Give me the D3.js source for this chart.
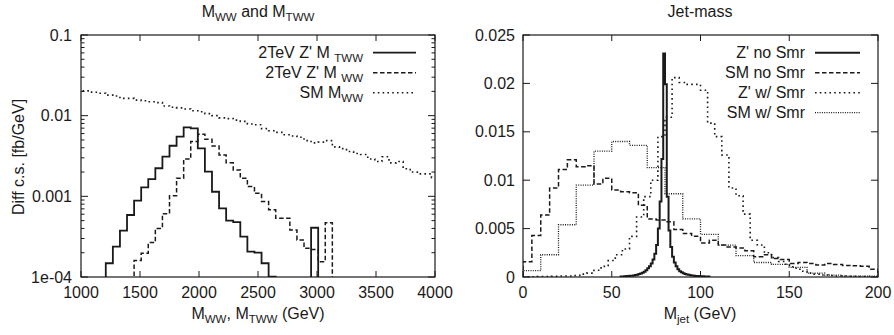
<!DOCTYPE html>
<html><head><meta charset="utf-8">
<script src="https://cdn.jsdelivr.net/npm/d3@7"></script>
<style>
body{margin:0;background:#fff;}
svg{display:block;font-family:"Liberation Sans",Arial,Helvetica,sans-serif;}
</style></head>
<body>
<svg id="chart" width="894" height="335"></svg>
<script>
// ---------------- DATA ----------------
// Left panel: M_WW and M_TWW (60 GeV bins)
const mtwwStart = 1210, mwwStart = 1450, smStart = 970, massBinWidth = 60;
const mtwwValues = [1.48e-4, 2.38e-4, 3.75e-4, 5.87e-4, 8.83e-4, 1.29e-3, 1.63e-3, 2.23e-3, 3.10e-3, 4.24e-3,
  5.49e-3, 7.17e-3, 6.97e-3, 3.94e-3, 2.02e-3, 1.14e-3, 7.1e-4, 4.99e-4, 4.8e-4, 3.16e-4,
  2.06e-4, 2.0e-4, 1.48e-4, 1.01e-4, 0, 0, 0, 0, 0, 4.08e-4];
const mwwValues = [1.6e-4, 1.97e-4, 2.67e-4, 4.0e-4, 6.1e-4, 1.02e-3, 1.68e-3, 2.9e-3, 4.8e-3, 5.9e-3,
  5.1e-3, 4.2e-3, 3.25e-3, 2.6e-3, 2.12e-3, 1.67e-3, 1.32e-3, 1.09e-3, 8.6e-4, 6.8e-4,
  5.35e-4, 5.35e-4, 3.83e-4, 2.88e-4, 2.27e-4, 2.2e-4, 1.55e-4, 4.7e-4];
const smMwwValues = [0.0203, 0.0203, 0.0195, 0.0190, 0.0180, 0.0175, 0.0164, 0.0164, 0.0156, 0.0153,
  0.0149, 0.0145, 0.0132, 0.0127, 0.0125, 0.0121, 0.0115, 0.0112, 0.0106, 0.0100,
  0.0094, 0.0092, 0.0088, 0.0085, 0.0079, 0.0077, 0.0069, 0.0065, 0.0062, 0.0058,
  0.0056, 0.0054, 0.0049, 0.0046, 0.0047, 0.0049, 0.0041, 0.0039, 0.0036, 0.0034,
  0.0033, 0.0029, 0.0027, 0.0031, 0.0026, 0.0027, 0.0022, 0.0020, 0.0019, 0.0019, 0.0017];
const leftXTicks = [1000, 1500, 2000, 2500, 3000, 3500, 4000];
const leftYTicks = [1e-4, 1e-3, 1e-2, 1e-1];
const leftYTickLabels = ["1e-04", "0.001", "0.01", "0.1"];

// Right panel: Jet-mass
const zNoSmrStart = 55, zNoSmrWidth = 1;
const zNoSmrValues = [0.00005, 0.00005, 0.00008, 0.0001, 0.0001, 0.00012, 0.00014, 0.00016, 0.0002, 0.00024,
  0.0003, 0.00036, 0.00045, 0.00055, 0.0007, 0.0009, 0.0011, 0.0014, 0.0018, 0.0024,
  0.0033, 0.0050, 0.0078, 0.0122, 0.0231, 0.0199, 0.0083, 0.0048, 0.0031, 0.0021,
  0.0015, 0.0011, 0.0008, 0.0006, 0.00048, 0.0004, 0.00032, 0.00026, 0.00022, 0.00018,
  0.00015, 0.00013, 0.00011, 0.0001, 0.00009, 0.00008, 0.00007, 0.00006, 0.00005, 0.00004];
const smNoSmrStart = 0, smNoSmrWidth = 5;
const smNoSmrValues = [0.00158, 0.00428, 0.0064, 0.0092, 0.0111, 0.0121, 0.0114, 0.0115, 0.0096, 0.0102,
  0.0090, 0.0088, 0.0087, 0.0074, 0.0060, 0.0059, 0.0057, 0.0049, 0.0045, 0.0042,
  0.0035, 0.0038, 0.0033, 0.0031, 0.0030, 0.0027, 0.0021, 0.0023, 0.0019, 0.0018,
  0.0014, 0.0015, 0.0014, 0.00124, 0.0014, 0.0013, 0.0012, 0.00115, 0.0011, 0.0008];
const zWSmrStart = 0, zWSmrWidth = 4;
const zWSmrValues = [0.00003, 0.00003, 0.00005, 0.00005, 0.00008, 0.0001, 0.0001, 0.00015, 0.0003, 0.0004,
  0.0007, 0.0011, 0.0017, 0.0023, 0.0029, 0.0042, 0.0062, 0.0083, 0.0100, 0.0145,
  0.0165, 0.0206, 0.0201, 0.0199, 0.0199, 0.0193, 0.0159, 0.0145, 0.0126, 0.0092,
  0.0084, 0.0065, 0.0038, 0.0033, 0.0025, 0.0020, 0.0016, 0.0012, 0.0009, 0.0006,
  0.0004, 0.0003, 0.0002, 0.00015, 0.0001, 0.0001, 0.00008, 0.00005, 0.00005, 0.00003];
const smWSmrStart = 0, smWSmrWidth = 10;
const smWSmrValues = [0.00065, 0.0023, 0.0054, 0.0095, 0.0130, 0.0140, 0.0136, 0.0113, 0.0086, 0.0060,
  0.0044, 0.0033, 0.0022, 0.0015, 0.0013, 0.0010, 0.0004, 0.0002, 0.0001, 0.0001];
const rightXTicks = [0, 50, 100, 150, 200];
const rightYTicks = [0, 0.005, 0.01, 0.015, 0.02, 0.025];
const rightYTickLabels = ["0", "0.005", "0.01", "0.015", "0.02", "0.025"];

// ---------------- DRAWING ----------------
const svg = d3.select("#chart");
const INK = "#1a1a1a";
const FS = 16, SUB = 11.5;

function edges(start, width, n) { return d3.range(n + 1).map(i => start + i * width); }
function stepPts(start, width, vals) {
  const e = edges(start, width, vals.length);
  const pts = [[e[0], 0]];
  vals.forEach((v, i) => pts.push([e[i], v]));
  pts.push([e[vals.length], vals[vals.length - 1]]);
  pts.push([e[vals.length], 0]);
  return pts;
}
// rich text: parts = [[text, isSub], ...]
function rich(g, x, y, parts, anchor, size) {
  const t = g.append("text").attr("x", x).attr("y", y).attr("text-anchor", anchor)
    .attr("font-size", size || FS).attr("fill", INK);
  let sub = false;
  parts.forEach(([s, isSub]) => {
    const ts = t.append("tspan").text(s);
    if (isSub && !sub) { ts.attr("dy", 4).attr("font-size", SUB); }
    else if (!isSub && sub) { ts.attr("dy", -4); }
    else if (isSub) ts.attr("font-size", SUB);
    sub = isSub;
  });
  return t;
}

// ---------- Left panel ----------
const L = {x0: 81, x1: 435, y0: 35, y1: 277};
const xL = d3.scaleLinear().domain([1000, 4000]).range([L.x0, L.x1]);
const yL = d3.scaleLog().domain([1e-4, 0.1]).range([L.y1, L.y0]);
const gL = svg.append("g");
svg.append("clipPath").attr("id", "clipL").append("rect")
  .attr("x", L.x0).attr("y", L.y0).attr("width", L.x1 - L.x0).attr("height", L.y1 - L.y0);

const lineL = d3.line().x(d => xL(d[0])).y(d => d[1] > 0 ? yL(d[1]) : L.y1 + 20).curve(d3.curveStepAfter);
const leftSeries = [
  {name: [["2TeV Z' M ", false], ["TWW", true]], pts: stepPts(mtwwStart, massBinWidth, mtwwValues), dash: null, w: 1.8},
  {name: [["2TeV Z' M ", false], ["WW", true]], pts: stepPts(mwwStart, massBinWidth, mwwValues), dash: "4.5,2.5", w: 1.5},
  {name: [["SM M", false], ["WW", true]], pts: stepPts(smStart, massBinWidth, smMwwValues), dash: "1.6,3.2", w: 1.6}
];
const plotL = gL.append("g").attr("clip-path", "url(#clipL)");
leftSeries.forEach(s => {
  plotL.append("path").attr("d", lineL(s.pts)).attr("fill", "none").attr("stroke", INK)
    .attr("stroke-width", s.w).attr("stroke-dasharray", s.dash);
});

// left axes ticks
const axL = gL.append("g").attr("stroke", INK).attr("stroke-width", 1);
leftXTicks.forEach(v => {
  axL.append("line").attr("x1", xL(v)).attr("x2", xL(v)).attr("y1", L.y1).attr("y2", L.y1 - 6);
  axL.append("line").attr("x1", xL(v)).attr("x2", xL(v)).attr("y1", L.y0).attr("y2", L.y0 + 6);
  gL.append("text").attr("x", xL(v)).attr("y", 298).attr("text-anchor", "middle")
    .attr("font-size", FS).attr("fill", INK).text(v);
});
leftYTicks.forEach((v, i) => {
  axL.append("line").attr("x1", L.x0).attr("x2", L.x0 + 7).attr("y1", yL(v)).attr("y2", yL(v));
  axL.append("line").attr("x1", L.x1).attr("x2", L.x1 - 7).attr("y1", yL(v)).attr("y2", yL(v));
  gL.append("text").attr("x", 72).attr("y", yL(v) + 5.5).attr("text-anchor", "end")
    .attr("font-size", FS).attr("fill", INK).text(leftYTickLabels[i]);
  if (i < leftYTicks.length - 1) {
    d3.range(2, 10).forEach(m => {
      const mv = v * m;
      axL.append("line").attr("x1", L.x0).attr("x2", L.x0 + 3.5).attr("y1", yL(mv)).attr("y2", yL(mv));
      axL.append("line").attr("x1", L.x1).attr("x2", L.x1 - 3.5).attr("y1", yL(mv)).attr("y2", yL(mv));
    });
  }
});
gL.append("rect").attr("x", L.x0).attr("y", L.y0).attr("width", L.x1 - L.x0).attr("height", L.y1 - L.y0)
  .attr("fill", "none").attr("stroke", INK).attr("stroke-width", 1.2);

// legend left
leftSeries.forEach((s, i) => {
  const yy = 52.7 + i * 20;
  rich(gL, 363, yy + 5, s.name, "end");
  gL.append("line").attr("x1", 373).attr("x2", 416).attr("y1", yy).attr("y2", yy)
    .attr("stroke", INK).attr("stroke-width", s.w).attr("stroke-dasharray", s.dash);
});
// titles & labels left
rich(gL, 258, 17, [["M", false], ["WW", true], [" and  M", false], ["TWW", true]], "middle");
rich(gL, 258, 319, [["M", false], ["WW", true], [", M", false], ["TWW", true], [" (GeV)", false]], "middle");
gL.append("text").attr("transform", "translate(24,157) rotate(-90)").attr("text-anchor", "middle")
  .attr("font-size", FS).attr("fill", INK).text("Diff c.s. [fb/GeV]");

// ---------- Right panel ----------
const R = {x0: 523, x1: 878, y0: 35, y1: 277};
const xR = d3.scaleLinear().domain([0, 200]).range([R.x0, R.x1]);
const yR = d3.scaleLinear().domain([0, 0.025]).range([R.y1, R.y0]);
const gR = svg.append("g");
svg.append("clipPath").attr("id", "clipR").append("rect")
  .attr("x", R.x0).attr("y", R.y0 - 1).attr("width", R.x1 - R.x0).attr("height", R.y1 - R.y0 + 1);
const lineR = d3.line().x(d => xR(d[0])).y(d => yR(d[1])).curve(d3.curveStepAfter);
const rightSeries = [
  {name: "Z' no Smr", pts: stepPts(zNoSmrStart, zNoSmrWidth, zNoSmrValues), dash: null, w: 2},
  {name: "SM no Smr", pts: stepPts(smNoSmrStart, smNoSmrWidth, smNoSmrValues), dash: "4.5,2.5", w: 1.5},
  {name: "Z' w/ Smr", pts: stepPts(zWSmrStart, zWSmrWidth, zWSmrValues), dash: "1.6,3.2", w: 1.6},
  {name: "SM w/ Smr", pts: stepPts(smWSmrStart, smWSmrWidth, smWSmrValues), dash: "1,1.3", w: 1.3}
];
const plotR = gR.append("g").attr("clip-path", "url(#clipR)");
rightSeries.slice().reverse().forEach(s => {
  plotR.append("path").attr("d", lineR(s.pts)).attr("fill", "none").attr("stroke", INK)
    .attr("stroke-width", s.w).attr("stroke-dasharray", s.dash);
});
const axR = gR.append("g").attr("stroke", INK).attr("stroke-width", 1);
rightXTicks.forEach(v => {
  axR.append("line").attr("x1", xR(v)).attr("x2", xR(v)).attr("y1", R.y1).attr("y2", R.y1 - 6);
  axR.append("line").attr("x1", xR(v)).attr("x2", xR(v)).attr("y1", R.y0).attr("y2", R.y0 + 6);
  gR.append("text").attr("x", xR(v)).attr("y", 298).attr("text-anchor", "middle")
    .attr("font-size", FS).attr("fill", INK).text(v);
});
rightYTicks.forEach((v, i) => {
  axR.append("line").attr("x1", R.x0).attr("x2", R.x0 + 7).attr("y1", yR(v)).attr("y2", yR(v));
  axR.append("line").attr("x1", R.x1).attr("x2", R.x1 - 7).attr("y1", yR(v)).attr("y2", yR(v));
  gR.append("text").attr("x", 515).attr("y", yR(v) + 5.5).attr("text-anchor", "end")
    .attr("font-size", FS).attr("fill", INK).text(rightYTickLabels[i]);
});
gR.append("rect").attr("x", R.x0).attr("y", R.y0).attr("width", R.x1 - R.x0).attr("height", R.y1 - R.y0)
  .attr("fill", "none").attr("stroke", INK).attr("stroke-width", 1.2);
rightSeries.forEach((s, i) => {
  const yy = 52.7 + i * 20;
  gR.append("text").attr("x", 805).attr("y", yy + 5).attr("text-anchor", "end")
    .attr("font-size", FS).attr("fill", INK).text(s.name);
  gR.append("line").attr("x1", 815).attr("x2", 860).attr("y1", yy).attr("y2", yy)
    .attr("stroke", INK).attr("stroke-width", s.w).attr("stroke-dasharray", s.dash);
});
gR.append("text").attr("x", 700).attr("y", 17).attr("text-anchor", "middle")
  .attr("font-size", FS).attr("fill", INK).text("Jet-mass");
rich(gR, 700, 319, [["M", false], ["jet", true], [" (GeV)", false]], "middle");
</script>
</body></html>
